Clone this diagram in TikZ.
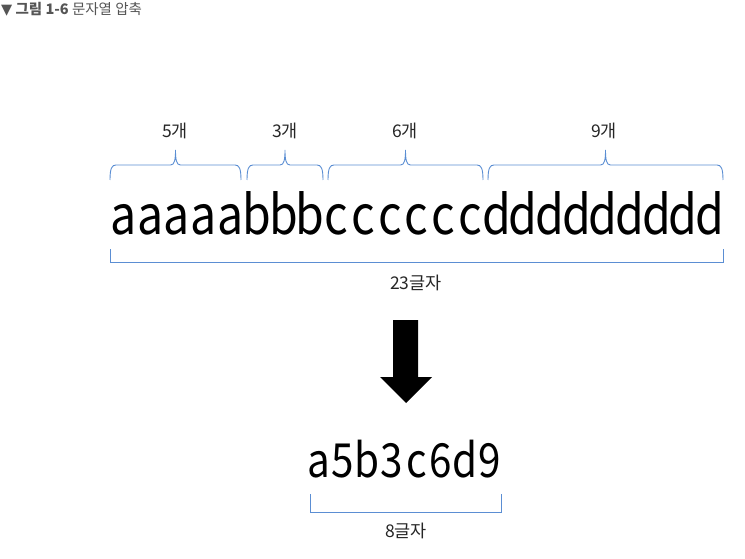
\documentclass[tikz,border=0pt]{standalone}
\usepackage{fontspec}
\setmainfont{Noto Sans CJK KR}
\newfontfamily\symfont{DejaVu Sans}
\definecolor{brc}{HTML}{5B8ED3}
\definecolor{ttl}{HTML}{555555}
\newlength{\cw}
\newcommand{\mono}[2]{\setlength{\cw}{#1}\monoloop#2\relax}
\def\monoloop#1{\ifx#1\relax\else\makebox[\cw][c]{\scalebox{0.86}[1]{#1}}\expandafter\monoloop\fi}
\tikzset{
  brline/.style={draw=brc, line width=0.9pt},
  big/.style={inner sep=0pt, anchor=base west, font=\fontsize{54}{56}\selectfont},
  mid/.style={inner sep=0pt, anchor=base west, font=\fontsize{47}{49}\selectfont},
  lbl/.style={inner sep=0pt, font=\fontsize{17.5}{19}\selectfont, text=black!85},
}
\newcommand{\curlyb}[3]{% x1 x2 name
  \draw[brline] (#1,180) .. controls (#1,168) and (#1+2,165) .. (#1+6,165)
    -- ({(#1+#2)/2-5},165) .. controls ({(#1+#2)/2-1},165) and ({(#1+#2)/2},160) .. ({(#1+#2)/2},150)
    .. controls ({(#1+#2)/2},160) and ({(#1+#2)/2+1},165) .. ({(#1+#2)/2+5},165)
    -- (#2-6,165) .. controls (#2-2,165) and (#2,168) .. (#2,180);
  \coordinate (#3) at ({(#1+#2)/2},150);
}
\begin{document}
\begin{tikzpicture}[x=1pt,y=-1pt]
\useasboundingbox (0,0) rectangle (745,559);
% title
\node[anchor=west, inner sep=0pt, text=ttl, font=\fontsize{14.5}{16}\selectfont] (title) at (1,9) {{\symfont\symbol{"25BC}}\ {\bfseries 그림 1-6} 문자열 압축};
% big string
\node[big] (str) at (110,235) {\mono{26.652pt}{aaaaabbbccccccddddddddd}};
% braces
\curlyb{110}{241}{ta}
\curlyb{247}{323}{tb}
\curlyb{328}{483}{tc}
\curlyb{488}{723}{td}
\node[lbl] (la) at (175,131) {5개};
\node[lbl] (lb) at (285,131) {3개};
\node[lbl] (lc) at (405,131) {6개};
\node[lbl] (ld) at (604,131) {9개};
% bottom bracket
\coordinate (b1) at (110,249);
\coordinate (b2) at (723,249);
\draw[brline] (b1) -- (110,262) -- (723,262) -- (b2);
\node[lbl] (l23) at (416,283) {23글자};
% arrow
\fill (393,320) -- (418,320) -- (418,377) -- (432,377) -- (406,403) -- (380,377) -- (393,377) -- cycle;
% result
\node[mid] (res) at (306,477) {\mono{24.5pt}{a5b3c6d9}};
\coordinate (c1) at (310,494);
\coordinate (c2) at (501,494);
\draw[brline] (c1) -- (310,512) -- (501,512) -- (c2);
\node[lbl] (l8) at (406,531) {8글자};
\end{tikzpicture}
\end{document}
